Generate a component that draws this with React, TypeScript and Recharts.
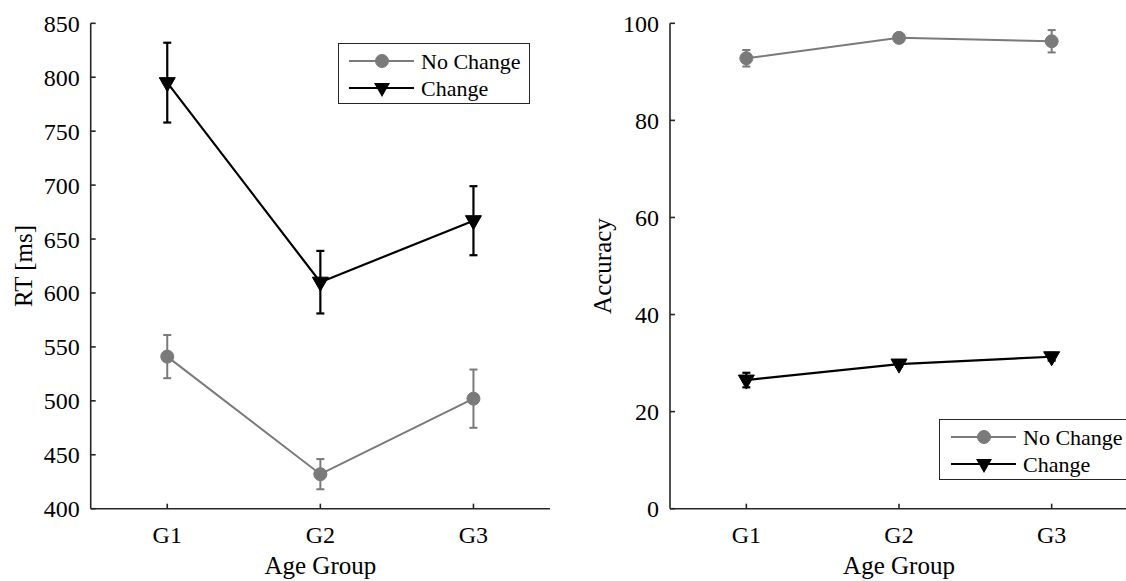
import React from "react"
import { LineChart, Line, XAxis, YAxis, ErrorBar, Legend } from "recharts"

const groups = ["G1", "G2", "G3"]
const groupPos = [1, 2, 3]

// RT panel
const rtNoChange = [541, 432, 502]
const rtNoChangeErr = [20, 14, 27]
const rtChange = [795, 610, 667]
const rtChangeErr = [37, 29, 32]
const rtTicks = [400, 450, 500, 550, 600, 650, 700, 750, 800, 850]

// Accuracy panel
const accNoChange = [92.8, 97.0, 96.3]
const accNoChangeErr = [1.7, 0.5, 2.3]
const accChange = [26.5, 29.8, 31.3]
const accChangeErr = [1.5, 0.5, 0.8]
const accTicks = [0, 20, 40, 60, 80, 100]

const FONT = "'Liberation Serif', 'Times New Roman', serif"
const GRAY = "#7a7a7a"
const BLACK = "#000"
const AXIS = "#262626"
const TEXT = "#000"

const rtData = groupPos.map((x, i) => ({
  x,
  nc: rtNoChange[i],
  ncErr: rtNoChangeErr[i],
  ch: rtChange[i],
  chErr: rtChangeErr[i],
}))

const accData = groupPos.map((x, i) => ({
  x,
  nc: accNoChange[i],
  ncErr: accNoChangeErr[i],
  ch: accChange[i],
  chErr: accChangeErr[i],
}))

const triPath = (cx: number, cy: number) => `M${cx - 8},${cy - 5}L${cx + 8},${cy - 5}L${cx},${cy + 9}Z`

const TriangleDot = (props: any) => {
  const { cx, cy, index } = props
  if (cx == null || cy == null) return null
  return <path key={`tri-${index}`} d={triPath(cx, cy)} fill={BLACK} stroke={BLACK} strokeWidth={1} />
}

const LegendBox = () => (
  <div
    style={{
      width: 192,
      height: 61,
      boxSizing: "border-box",
      border: `1.5px solid ${AXIS}`,
      background: "#fff",
      position: "relative",
      fontFamily: FONT,
    }}
  >
    <svg width={192} height={61} style={{ position: "absolute", left: -1.5, top: -1.5 }}>
      <line x1={12} x2={77} y1={18} y2={18} stroke={GRAY} strokeWidth={2} />
      <circle cx={45} cy={18} r={6.5} fill={GRAY} stroke={GRAY} />
      <line x1={12} x2={77} y1={45} y2={45} stroke={BLACK} strokeWidth={2.2} />
      <path d={triPath(45, 45)} fill={BLACK} />
      <text x={84} y={18} dy="0.35em" fontSize={22} fill={TEXT} fontFamily={FONT}>No Change</text>
      <text x={84} y={45} dy="0.35em" fontSize={22} fill={TEXT} fontFamily={FONT}>Change</text>
    </svg>
  </div>
)

const yLabel = (text: string) => (props: any) => {
  const vb = props.viewBox
  const x = vb.x + 11
  const y = vb.y + vb.height / 2
  return (
    <text x={x} y={y} transform={`rotate(-90 ${x} ${y})`} textAnchor="middle" fontSize={25} fill={TEXT} fontFamily={FONT}>
      {text}
    </text>
  )
}

const xLabel = (props: any) => {
  const vb = props.viewBox
  return (
    <text x={vb.x + vb.width / 2} y={vb.y + 65.5} textAnchor="middle" fontSize={25} fill={TEXT} fontFamily={FONT}>
      Age Group
    </text>
  )
}

const tickStyle = { fontSize: 24, fill: TEXT, fontFamily: FONT }

function Panel(props: {
  data: any[]
  width: number
  margin: any
  domain: [number, number]
  ticks: number[]
  ylab: string
  legendPos: { left: number; top: number }
}) {
  const { data, width, margin, domain, ticks, ylab, legendPos } = props
  return (
    <LineChart width={width} height={581} data={data} margin={margin}>
      <XAxis
        dataKey="x"
        type="number"
        domain={[0.5, 3.5]}
        ticks={groupPos}
        tickFormatter={(v: number) => groups[v - 1]}
        stroke={AXIS}
        strokeWidth={1.6}
        tickSize={-5}
        tickMargin={22}
        tick={tickStyle}
        height={50}
        label={{ content: xLabel }}
      />
      <YAxis
        type="number"
        domain={domain}
        ticks={ticks}
        stroke={AXIS}
        strokeWidth={1.6}
        tickSize={-5}
        tickMargin={16}
        tick={tickStyle}
        width={70}
        allowDataOverflow
        label={{ content: yLabel(ylab) }}
      />
      <Legend
        layout="vertical"
        align="center"
        verticalAlign="middle"
        wrapperStyle={{ position: "absolute", left: legendPos.left, top: legendPos.top, width: 192, height: 61 }}
        content={() => <LegendBox />}
      />
      <Line
        dataKey="nc"
        name="No Change"
        stroke={GRAY}
        strokeWidth={2}
        dot={{ r: 6.5, fill: GRAY, stroke: GRAY, strokeWidth: 1 }}
        activeDot={false}
        isAnimationActive={false}
      >
        <ErrorBar dataKey="ncErr" direction="y" width={4} stroke={GRAY} strokeWidth={2} isAnimationActive={false} />
      </Line>
      <Line
        dataKey="ch"
        name="Change"
        stroke={BLACK}
        strokeWidth={2.2}
        dot={TriangleDot}
        activeDot={false}
        isAnimationActive={false}
      >
        <ErrorBar dataKey="chErr" direction="y" width={4} stroke={BLACK} strokeWidth={2.2} isAnimationActive={false} />
      </Line>
    </LineChart>
  )
}

export default function App() {
  return (
    <div
      style={{
        position: "fixed",
        left: 0,
        top: 0,
        width: 1126,
        height: 581,
        overflow: "hidden",
        background: "#fff",
      }}
    >
      <div style={{ position: "absolute", left: 0, top: 0 }}>
        <Panel
          data={rtData}
          width={560}
          margin={{ top: 23.3, right: 10, bottom: 22.3, left: 20.7 }}
          domain={[400, 850]}
          ticks={rtTicks}
          ylab="RT [ms]"
          legendPos={{ left: 337.5, top: 43 }}
        />
      </div>
      <div style={{ position: "absolute", left: 560, top: 0 }}>
        <Panel
          data={accData}
          width={580}
          margin={{ top: 23.3, right: 12, bottom: 22.3, left: 40 }}
          domain={[0, 100]}
          ticks={accTicks}
          ylab="Accuracy"
          legendPos={{ left: 379.3, top: 419.3 }}
        />
      </div>
    </div>
  )
}
